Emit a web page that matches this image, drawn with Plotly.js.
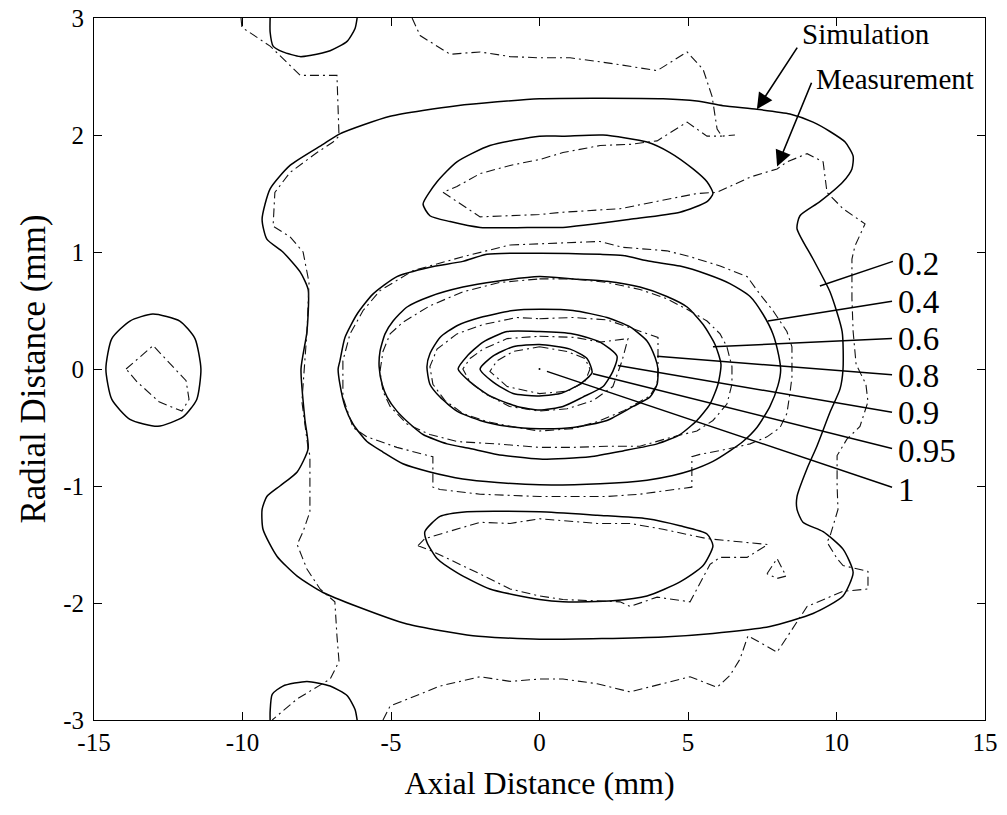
<!DOCTYPE html>
<html>
<head>
<meta charset="utf-8">
<script src="https://cdn.plot.ly/plotly-3.0.1.min.js"></script>
<style>html,body{margin:0;padding:0;background:#fff;}#chart{width:1007px;height:815px;}</style>
</head>
<body>
<div id="chart"></div>
<script>
// ---------- axis ticks ----------
const xTicks = [-15, -10, -5, 0, 5, 10, 15];
const yTicks = [-3, -2, -1, 0, 1, 2, 3];

// ---------- Simulation contours (solid) ----------
const sim02X = [0,4.16,5.30,6.18,7.32,8.43,9.21,9.78,10.29,10.56,10.52,10.22,9.44,8.77,8.67,9.21,9.78,10.19,10.22,10.12,9.78,9.34,9.01,8.67,8.67,8.87,9.55,10.22,10.56,10.22,9.21,7.76,5.84,4.16,0,-2.24,-4.46,-6.14,-7.29,-8.16,-8.84,-9.31,-9.34,-9.18,-8.74,-8.16,-7.79,-7.90,-8.03,-7.83,-7.79,-8.06,-8.64,-9.18,-9.34,-9.07,-8.40,-7.29,-6.72,-5.03,-2.78,0];
const sim02Y = [2.31,2.31,2.29,2.25,2.22,2.18,2.11,2.03,1.94,1.82,1.71,1.60,1.43,1.31,1.20,0.94,0.66,0.32,0,-0.17,-0.37,-0.66,-0.85,-1.09,-1.20,-1.31,-1.39,-1.54,-1.74,-1.94,-2.09,-2.20,-2.26,-2.29,-2.31,-2.28,-2.18,-2.03,-1.91,-1.77,-1.60,-1.37,-1.20,-1.09,-1.00,-0.88,-0.68,-0.43,0,0.32,0.68,0.83,1.00,1.11,1.28,1.54,1.74,1.92,2.01,2.16,2.25,2.31];

const simUpperX = [0,0.79,2.14,3.62,4.39,5.17,5.64,5.84,5.64,4.73,3.05,0.79,0,-2.0,-3.01,-3.69,-3.92,-3.45,-2.78,-1.67,0];
const simUpperY = [1.99,1.99,2.0,1.94,1.85,1.71,1.60,1.50,1.43,1.34,1.28,1.21,1.21,1.21,1.26,1.31,1.41,1.60,1.77,1.91,1.99];

const simLowerX = [0,1.94,3.62,4.73,5.64,5.84,5.51,4.73,3.62,2.47,0.79,0,-1.67,-2.78,-3.45,-3.79,-3.86,-3.35,-2.44,0];
const simLowerY = [-1.22,-1.25,-1.28,-1.34,-1.41,-1.51,-1.68,-1.82,-1.94,-1.98,-1.99,-1.97,-1.88,-1.74,-1.62,-1.48,-1.39,-1.26,-1.22,-1.22];

const sim04X = [0,2.04,2.81,3.72,4.73,5.64,6.41,7.09,7.52,7.86,8.05,8.12,8.03,7.76,7.32,6.85,6.41,5.84,5.07,4.49,3.62,2.04,0,-1.43,-2.58,-3.69,-4.60,-5.27,-5.81,-6.28,-6.55,-6.72,-6.78,-6.72,-6.55,-6.14,-5.61,-4.80,-3.69,-2.58,-1.77,0];
const sim04Y = [0.99,0.98,0.97,0.92,0.88,0.81,0.73,0.62,0.47,0.30,0.12,-0.01,-0.14,-0.32,-0.50,-0.62,-0.70,-0.79,-0.87,-0.91,-0.95,-0.98,-0.99,-0.97,-0.94,-0.88,-0.81,-0.71,-0.62,-0.47,-0.32,-0.13,0,0.07,0.27,0.47,0.64,0.79,0.87,0.92,0.98,0.99];

const sim06X = [0,1.13,2.27,3.38,4.29,4.97,5.51,5.91,6.11,6.01,5.74,5.30,4.73,3.96,2.81,1.70,0,-1.43,-2.34,-3.11,-3.92,-4.36,-4.80,-5.13,-5.30,-5.40,-5.37,-5.20,-4.93,-4.46,-3.69,-2.58,-1.43,0];
const sim06Y = [0.79,0.77,0.75,0.70,0.62,0.53,0.38,0.21,0.04,-0.13,-0.30,-0.44,-0.56,-0.64,-0.70,-0.75,-0.77,-0.73,-0.68,-0.64,-0.56,-0.47,-0.36,-0.24,-0.13,0.02,0.15,0.30,0.41,0.53,0.62,0.70,0.75,0.79];

const sim08X = [0,1.13,2.27,3.05,3.62,3.89,3.99,3.96,3.72,3.15,2.27,1.13,0,-1.09,-2.0,-2.78,-3.35,-3.69,-3.79,-3.69,-3.35,-2.78,-2.0,-0.89,0];
const sim08Y = [0.51,0.50,0.44,0.36,0.24,0.10,0,-0.13,-0.24,-0.32,-0.44,-0.50,-0.51,-0.49,-0.44,-0.36,-0.24,-0.13,0.02,0.13,0.27,0.37,0.44,0.50,0.51];

const sim09X = [0,1.13,2.04,2.61,2.47,2.14,1.46,0.79,0,-0.76,-1.67,-2.34,-2.74,-2.44,-1.90,-1.09,0];
const sim09Y = [0.32,0.30,0.23,0.11,-0.02,-0.15,-0.24,-0.32,-0.35,-0.32,-0.23,-0.11,0,0.11,0.23,0.32,0.32];

const sim095X = [0,1.03,1.60,1.77,1.36,0.69,-0.08,-0.89,-1.57,-2.0,-1.57,-0.89,0];
const sim095Y = [0.21,0.17,0.09,-0.03,-0.13,-0.21,-0.23,-0.21,-0.11,0,0.11,0.19,0.21];

const simPeakX = [0];
const simPeakY = [0];

const simLeftX = [-13.02,-12.11,-11.6,-11.4,-11.54,-12.0,-12.85,-13.79,-14.4,-14.6,-14.4,-13.79,-13.02];
const simLeftY = [0.47,0.41,0.26,0,-0.26,-0.41,-0.49,-0.43,-0.26,0,0.26,0.41,0.47];

const simTopX = [-9.07,-9.07,-8.97,-8.64,-8.06,-7.73,-7.05,-6.48,-6.21,-6.14];
const simTopY = [3.0,2.88,2.76,2.71,2.67,2.68,2.72,2.80,2.91,3.0];

const simBottomX = [-9.07,-9.07,-9.0,-8.64,-7.83,-7.05,-6.48,-6.21,-6.14];
const simBottomY = [-3.0,-2.93,-2.78,-2.71,-2.67,-2.71,-2.79,-2.91,-3.0];

// ---------- Measurement contours (dash-dot) ----------
const meaOuterLeftX = [-10.05,-10.02,-9.07,-8.06,-6.82,-6.75,-6.95,-7.49,-8.40,-8.91,-8.97,-8.40,-7.96,-7.76,-7.83,-7.96,-8.0,-7.79,-7.73,-7.73,-7.96,-8.16,-7.83,-7.39,-6.89,-6.82,-6.75,-7.05,-8.16,-9.0];
const meaOuterLeftY = [3.0,2.92,2.76,2.51,2.51,1.99,1.94,1.85,1.68,1.51,1.22,1.13,1.0,0.74,0.32,-0.09,-0.28,-0.68,-0.74,-1.22,-1.39,-1.50,-1.71,-1.88,-1.99,-2.28,-2.50,-2.65,-2.82,-3.0];

const meaOuterTopX = [-4.29,-4.02,-3.01,-2.0,-0.99,0,1.03,2.47,3.96,4.97,5.51,5.81,5.98,6.14,6.58];
const meaOuterTopY = [3.0,2.85,2.69,2.71,2.67,2.66,2.66,2.61,2.55,2.71,2.56,2.33,2.05,1.99,2.0];

const meaOuterRightX = [-5.27,-5.03,-3.35,-2.0,-0.99,0,0.79,1.94,3.05,4.16,5.07,5.98,6.41,6.75,7.02,8.0,8.67,9.01,10.22,11.06,11.06,10.22,10.02,9.68,9.78,10.05,10.02,10.02,10.35,10.79,11.06,10.99,10.66,10.56,10.52,10.52,10.62,10.96,10.22,9.68,9.55,9.01,8.33,8.0,7.09,6.41,5.98,5.30,4.16,2.71,0.79,0,-2.0,-2.78,-3.25,-2.78,-2.0,-0.99,0,0.79,2.04,3.05,3.96,4.97,5.64,6.14];
const meaOuterRightY = [-3.0,-2.88,-2.71,-2.63,-2.67,-2.65,-2.65,-2.69,-2.76,-2.69,-2.63,-2.72,-2.62,-2.48,-2.28,-2.42,-2.16,-2.03,-1.90,-1.88,-1.73,-1.68,-1.62,-1.48,-1.43,-1.20,-1.0,-0.74,-0.60,-0.49,-0.28,-0.13,0.04,0.32,0.60,0.94,1.05,1.24,1.37,1.51,1.77,1.84,1.77,1.71,1.64,1.56,1.51,1.50,1.44,1.37,1.34,1.32,1.30,1.43,1.51,1.56,1.67,1.74,1.79,1.85,1.91,1.92,1.95,2.11,1.99,1.99];

const mea04X = [-0.99,0,2.04,2.81,4.29,5.07,6.08,6.99,7.42,7.86,8.33,8.50,8.50,8.43,8.33,8.10,7.66,7.09,6.41,5.40,5.13,5.13,4.49,3.38,2.27,0,-2.0,-3.35,-3.59,-3.59,-4.80,-5.81,-6.28,-6.62,-6.62,-6.38,-5.94,-5.37,-4.26,-2.58,-0.99];
const mea04Y = [1.06,1.07,1.09,1.04,1.01,0.96,0.88,0.79,0.64,0.50,0.32,0.19,-0.07,-0.21,-0.38,-0.50,-0.58,-0.64,-0.68,-0.73,-0.75,-1.01,-1.03,-1.07,-1.09,-1.09,-1.07,-1.03,-1.01,-0.75,-0.67,-0.58,-0.50,-0.24,0.07,0.30,0.50,0.67,0.84,0.96,1.06];

const mea06X = [0,1.13,2.27,3.38,4.29,4.97,5.64,6.08,6.31,6.48,6.48,6.31,5.84,5.30,4.49,3.38,2.27,1.13,0,-1.43,-2.78,-3.69,-4.46,-5.03,-5.27,-5.37,-5.27,-5.03,-4.60,-3.69,-2.58,-1.33,0];
const mea06Y = [0.77,0.77,0.74,0.68,0.60,0.51,0.41,0.30,0.19,0.02,-0.13,-0.30,-0.44,-0.53,-0.58,-0.66,-0.66,-0.67,-0.67,-0.64,-0.62,-0.56,-0.47,-0.32,-0.19,-0.02,0.15,0.30,0.40,0.54,0.66,0.74,0.77];

const mea08X = [0,1.13,2.27,3.22,3.99,3.99,3.96,3.72,2.81,1.94,1.13,0,-0.76,-1.77,-2.58,-3.18,-3.59,-3.69,-3.45,-2.78,-1.90,-0.76,0];
const mea08Y = [0.43,0.44,0.42,0.34,0.27,0.02,-0.13,-0.23,-0.36,-0.45,-0.51,-0.53,-0.50,-0.45,-0.38,-0.27,-0.13,0.02,0.17,0.30,0.38,0.44,0.43];

const mea09X = [0,1.20,2.04,2.98,2.78,2.47,1.80,0.93,0,-1.01,-1.84,-2.34,-2.58,-2.34,-1.90,-1.09,0];
const mea09Y = [0.28,0.27,0.23,0.26,0.07,-0.15,-0.27,-0.34,-0.36,-0.32,-0.21,-0.11,0,0.09,0.17,0.26,0.28];

const mea095X = [0,0.93,1.53,1.70,1.53,0.93,0,-1.09,-1.67,-1.43,-0.89,0];
const mea095Y = [0.19,0.15,0.09,0,-0.11,-0.19,-0.21,-0.15,-0.02,0.07,0.15,0.19];

const meaLowerX = [-4.09,-3.86,-2.0,-0.99,0,1.94,3.05,4.16,5.64,7.69,6.99,6.08,5.74,5.07,3.96,3.05,2.71,0.79,0,-0.99,-2.10,-3.59,-4.09];
const meaLowerY = [-1.51,-1.45,-1.31,-1.32,-1.28,-1.32,-1.32,-1.37,-1.45,-1.50,-1.61,-1.61,-1.67,-1.99,-1.95,-2.03,-1.99,-1.97,-1.94,-1.88,-1.74,-1.56,-1.51];

const meaLeftX = [-13.92,-13.01,-11.9,-11.8,-12.04,-12.81,-13.55,-13.92];
const meaLeftY = [0,0.20,-0.10,-0.26,-0.36,-0.28,-0.11,0];

const meaIsleX = [7.66,8.0,8.30,8.0,7.66];
const meaIsleY = [-1.75,-1.62,-1.77,-1.79,-1.75];

// ---------- contour level labels & leaders ----------
const levelLabels = ['0.2','0.4','0.6','0.8','0.9','0.95','1'];
const leaderStartX = [9.44,7.69,5.84,3.96,2.64,1.80,0.25];
const leaderStartY = [0.71,0.41,0.19,0.11,0.03,-0.04,-0.02];
const leaderEndX = [11.90,11.87,11.87,11.87,11.87,11.87,11.87];
const leaderEndY = [0.92,0.58,0.26,-0.05,-0.37,-0.68,-1.01];
const labelX = [12.0,12.0,12.0,12.0,12.0,12.0,12.0];
const labelY = [0.90,0.57,0.26,-0.06,-0.38,-0.70,-1.03];

// ---------- legend-like arrows ----------
const keyNames = ['Simulation','Measurement'];
const keyTipX = [7.32, 8.0];
const keyTipY = [2.22, 1.73];
const keyTailX = [8.71, 9.18];
const keyTailY = [2.76, 2.46];
const keyTextX = [8.78, 9.25];
const keyTextY = [2.86, 2.48];

// ---------- build ----------
const FONT = 'Liberation Serif, Times New Roman, serif';
function sim(x, y, smooth) {
  return {x: x, y: y, type: 'scatter', mode: 'lines', hoverinfo: 'skip',
    line: {color: '#000', width: 1.5, shape: smooth ? 'spline' : 'linear', smoothing: 0.6}};
}
function mea(x, y) {
  return {x: x, y: y, type: 'scatter', mode: 'lines', hoverinfo: 'skip',
    line: {color: '#111', width: 1.1, dash: '9px,4px,2px,4px'}};
}
const traces = [
  sim(sim02X, sim02Y, true), sim(simUpperX, simUpperY, true), sim(simLowerX, simLowerY, true),
  sim(sim04X, sim04Y, true), sim(sim06X, sim06Y, true), sim(sim08X, sim08Y, true),
  sim(sim09X, sim09Y, true), sim(sim095X, sim095Y, true),
  sim(simLeftX, simLeftY, true), sim(simTopX, simTopY, true), sim(simBottomX, simBottomY, true),
  {x: simPeakX, y: simPeakY, type: 'scatter', mode: 'markers', marker: {color: '#000', size: 2}, hoverinfo: 'skip'},
  mea(meaOuterLeftX, meaOuterLeftY), mea(meaOuterTopX, meaOuterTopY), mea(meaOuterRightX, meaOuterRightY),
  mea(mea04X, mea04Y), mea(mea06X, mea06Y), mea(mea08X, mea08Y), mea(mea09X, mea09Y), mea(mea095X, mea095Y),
  mea(meaLowerX, meaLowerY), mea(meaLeftX, meaLeftY), mea(meaIsleX, meaIsleY)
];

const shapes = levelLabels.map((_, i) => ({
  type: 'line', xref: 'x', yref: 'y',
  x0: leaderStartX[i], y0: leaderStartY[i], x1: leaderEndX[i], y1: leaderEndY[i],
  line: {color: '#000', width: 1.5}
}));

const annotations = [];
levelLabels.forEach((t, i) => annotations.push({
  x: labelX[i], y: labelY[i], xref: 'x', yref: 'y', text: t, showarrow: false,
  xanchor: 'left', yanchor: 'middle', font: {family: FONT, size: 33, color: '#000'}
}));
keyNames.forEach((t, i) => {
  annotations.push({
    x: keyTipX[i], y: keyTipY[i], xref: 'x', yref: 'y', ax: keyTailX[i], ay: keyTailY[i],
    axref: 'x', ayref: 'y', text: '', showarrow: true, arrowhead: 2, arrowsize: 2,
    arrowwidth: 1.6, arrowcolor: '#000', standoff: 0, startstandoff: 0
  });
  annotations.push({
    x: keyTextX[i], y: keyTextY[i], xref: 'x', yref: 'y', text: t, showarrow: false,
    xanchor: 'left', yanchor: 'middle', font: {family: FONT, size: 29, color: '#000'}
  });
});

const axisCommon = {
  showgrid: false, zeroline: false, showline: true, linecolor: '#000', linewidth: 1,
  mirror: 'ticks', ticks: 'inside', ticklen: 8, tickwidth: 1, tickcolor: '#000',
  tickfont: {family: FONT, size: 25, color: '#000'}
};

const layout = {
  width: 1007, height: 815,
  margin: {l: 94, r: 22, t: 18, b: 95},
  paper_bgcolor: '#fff', plot_bgcolor: '#fff',
  showlegend: false,
  xaxis: Object.assign({}, axisCommon, {
    range: [-15, 15], tickmode: 'array', tickvals: xTicks, ticktext: xTicks.map(String),
    title: {text: 'Axial Distance (mm)', font: {family: FONT, size: 32, color: '#000'}, standoff: 16}
  }),
  yaxis: Object.assign({}, axisCommon, {
    range: [-3, 3], tickmode: 'array', tickvals: yTicks, ticktext: yTicks.map(String),
    ticklabelstandoff: 4,
    title: {text: 'Radial Distance (mm)', font: {family: FONT, size: 35, color: '#000'}, standoff: 6}
  }),
  shapes: shapes,
  annotations: annotations
};

Plotly.newPlot('chart', traces, layout, {staticPlot: true, displayModeBar: false});
</script>
</body>
</html>
